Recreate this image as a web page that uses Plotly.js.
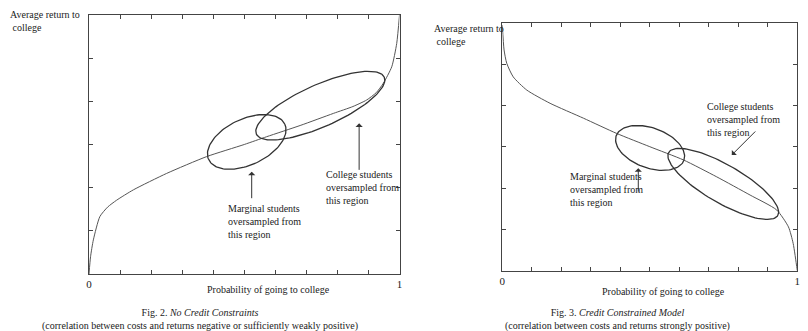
<!DOCTYPE html>
<html>
<head>
<meta charset="utf-8">
<script src="https://cdn.plot.ly/plotly-3.0.1.min.js"></script>
<style>
  body { margin: 0; background: #fff; }
  #plot { width: 808px; height: 331px; }
</style>
</head>
<body>
<div id="plot"></div>
<script>
// Fig. 2 curve (no credit constraints)
var probLeft = [0, 0.005, 0.014, 0.035, 0.06, 0.089, 0.143, 0.25, 0.379, 0.5, 0.572, 0.68, 0.787, 0.85, 0.894, 0.925, 0.948, 0.975, 0.991, 1.0];
var returnLeft = [0, 0.4, 0.79, 1.33, 1.55, 1.71, 1.95, 2.33, 2.72, 3.0, 3.18, 3.44, 3.72, 3.88, 4.03, 4.2, 4.42, 4.8, 5.34, 6.0];

// Fig. 3 curve (credit constrained)
var probRight = [0, 0.006, 0.015, 0.037, 0.083, 0.162, 0.275, 0.388, 0.5, 0.614, 0.727, 0.84, 0.93, 0.97, 0.986, 0.998, 1.0];
var returnRight = [5.94, 5.34, 5.02, 4.69, 4.37, 4.05, 3.69, 3.32, 3.0, 2.68, 2.27, 1.83, 1.47, 1.06, 0.66, 0.1, 0];

// ellipses: centre in data units, half-axes in px, tilt in degrees
var ellPanel = [0, 0, 1, 1];
var ellCx = [0.508, 0.745, 0.501, 0.749];
var ellCy = [3.06, 3.90, 2.97, 2.10];
var ellA = [42, 70, 36, 63];
var ellB = [23, 21, 20, 19];
var ellTilt = [25, 24, -20, -30];

var xTicks = [0, 0.1, 0.2, 0.3, 0.4, 0.5, 0.6, 0.7, 0.8, 0.9, 1];
var xTickText = ["0", "", "", "", "", "", "", "", "", "", "1"];
var yTicks = [0, 1, 2, 3, 4, 5, 6];

var W = 808, H = 331;
var domX = [[89 / W, 399.5 / W], [502.3 / W, 797.3 / W]];
var domY = [[1 - 274 / H, 1 - 15 / H], [1 - 270.7 / H, 1 - 22.7 / H]];

var lineCol = "#555";
var boxCol = "#444";
var inkCol = "#333";

function ellipse(i) {
  var p = ellPanel[i];
  var pxX = (domX[p][1] - domX[p][0]) * W;      // px per x unit
  var pxY = (domY[p][1] - domY[p][0]) * H / 6;  // px per y unit
  var th = ellTilt[i] * Math.PI / 180;
  var xs = [], ys = [];
  for (var k = 0; k <= 120; k++) {
    var t = 2 * Math.PI * k / 120;
    var u = ellA[i] * Math.cos(t), v = ellB[i] * Math.sin(t);
    var dx = u * Math.cos(th) - v * Math.sin(th);
    var dy = u * Math.sin(th) + v * Math.cos(th);
    xs.push(ellCx[i] + dx / pxX);
    ys.push(ellCy[i] + dy / pxY);
  }
  return {
    x: xs, y: ys, type: "scatter", mode: "lines",
    xaxis: p ? "x2" : "x", yaxis: p ? "y2" : "y",
    line: {color: inkCol, width: 1.3}, hoverinfo: "skip"
  };
}

var data = [
  {x: probLeft, y: returnLeft, type: "scatter", mode: "lines",
   line: {color: lineCol, width: 1, shape: "spline", smoothing: 0.6}},
  {x: probRight, y: returnRight, type: "scatter", mode: "lines", xaxis: "x2", yaxis: "y2",
   line: {color: lineCol, width: 1, shape: "spline", smoothing: 0.6}}
];
for (var i = 0; i < ellCx.length; i++) data.push(ellipse(i));

function xAxis(d, anchor) {
  return {
    domain: d, anchor: anchor, range: [0, 1], showgrid: false, zeroline: false,
    showline: true, linecolor: boxCol, linewidth: 1, mirror: "ticks",
    ticks: "inside", ticklen: 4, tickcolor: boxCol,
    tickvals: xTicks, ticktext: xTickText,
    tickfont: {family: "Liberation Serif", size: 11, color: "#222"}
  };
}
function yAxis(d, anchor) {
  return {
    domain: d, anchor: anchor, range: [0, 6], showgrid: false, zeroline: false,
    showline: true, linecolor: boxCol, linewidth: 1, mirror: "ticks",
    ticks: "inside", ticklen: 4, tickcolor: boxCol,
    tickvals: yTicks, showticklabels: false
  };
}

var txt = {family: "Liberation Serif", size: 10, color: "#222"};
function note(px, py, text, anchor, align) {
  return {xref: "paper", yref: "paper", x: px / W, y: 1 - py / H, text: text,
          showarrow: false, xanchor: anchor || "left", yanchor: "middle",
          align: align || "left", font: txt};
}
function arrow(xr, yr, x, y, ax, ay) {
  return {xref: xr, yref: yr, x: x, y: y, ax: ax, ay: ay, text: "",
          showarrow: true, arrowhead: 1, arrowsize: 1.2, arrowwidth: 1, arrowcolor: inkCol};
}

var layout = {
  width: W, height: H,
  margin: {l: 0, r: 0, t: 0, b: 0},
  paper_bgcolor: "#fff", plot_bgcolor: "#fff",
  showlegend: false,
  font: txt,
  xaxis: xAxis(domX[0], "y"), yaxis: yAxis(domY[0], "x"),
  xaxis2: xAxis(domX[1], "y2"), yaxis2: yAxis(domY[1], "x2"),
  annotations: [
    note(8, 21, "Average return to<br> college"),
    note(268, 289, "Probability of going to college", "center"),
    note(200, 319, "Fig. 2. <i>No Credit Constraints</i><br>(correlation between costs and returns negative or sufficiently weakly positive)", "center", "center"),
    note(226, 221, "Marginal students<br>oversampled from<br>this region"),
    note(324, 187.5, "College students<br>oversampled from<br>this region"),
    arrow("x", "y", 0.524, 2.37, 0, 28),
    arrow("x", "y", 0.870, 3.49, 0, 48),

    note(432, 35, "Average return to<br> college"),
    note(663, 291.5, "Probability of going to college", "center"),
    note(617, 319, "Fig. 3. <i>Credit Constrained Model</i><br>(correlation between costs and returns strongly positive)", "center", "center"),
    note(568, 189, "Marginal students<br>oversampled from<br>this region"),
    note(705, 119.7, "College students<br>oversampled from<br>this region"),
    arrow("x2", "y2", 0.461, 2.48, 0, 25),
    arrow("x2", "y2", 0.778, 2.80, 25, -25)
  ]
};

Plotly.newPlot("plot", data, layout, {displayModeBar: false, staticPlot: true});
</script>
</body>
</html>
